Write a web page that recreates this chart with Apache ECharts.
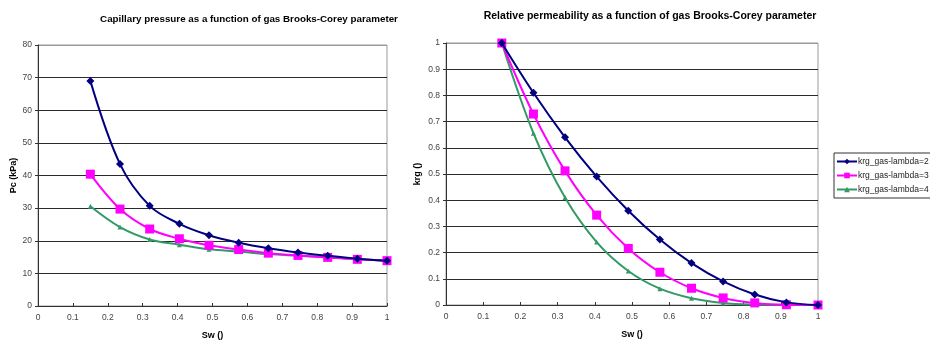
<!DOCTYPE html>
<html>
<head>
<meta charset="utf-8">
<script src="https://cdn.jsdelivr.net/npm/echarts@6/dist/echarts.min.js"></script>
<style>
  html, body { margin: 0; padding: 0; background: #fff; }
  #chart { width: 930px; height: 341px; }
</style>
</head>
<body>
<div id="chart"></div>
<script>
// Water saturation sample points (shared by both panels)
const sw = [0.15, 0.235, 0.32, 0.405, 0.49, 0.575, 0.66, 0.745, 0.83, 0.915, 1.0];

// Capillary pressure (kPa) for gas Brooks-Corey lambda = 2, 3, 4
const pcLambda2 = [69.0, 43.5, 30.7, 25.2, 21.7, 19.4, 17.7, 16.4, 15.4, 14.5, 13.9];
const pcLambda3 = [40.4, 29.7, 23.6, 20.6, 18.6, 17.3, 16.2, 15.5, 14.9, 14.3, 13.9];
const pcLambda4 = [30.6, 24.2, 20.4, 18.8, 17.4, 16.7, 15.9, 15.4, 14.9, 14.4, 13.9];

// Gas relative permeability for lambda = 2, 3, 4
const krgLambda2 = [1.0, 0.81, 0.64, 0.49, 0.36, 0.25, 0.16, 0.09, 0.04, 0.01, 0.0];
const krgLambda3 = [1.0, 0.729, 0.512, 0.343, 0.216, 0.125, 0.064, 0.027, 0.008, 0.001, 0.0];
const krgLambda4 = [1.0, 0.656, 0.41, 0.24, 0.13, 0.0625, 0.026, 0.008, 0.0016, 0.0001, 0.0];

const seriesNames = ['krg_gas-lambda=2', 'krg_gas-lambda=3', 'krg_gas-lambda=4'];
const xTicks = { min: 0, max: 1, interval: 0.1 };
const pcTicks = { min: 0, max: 80, interval: 10 };
const krgTicks = { min: 0, max: 1, interval: 0.1 };

const font = 'Liberation Sans, Arial, sans-serif';
const colors = ['#000080', '#FF00FF', '#339966'];
const symbols = ['diamond', 'rect', 'triangle'];
const symbolSizes = [8, 9, 5];

const pair = (xs, ys) => xs.map((x, i) => [x, ys[i]]);

function gridLineColors(n) {
  const c = [];
  for (let i = 0; i < n; i++) c.push(i === n - 1 ? '#9a9a9a' : '#2a2a2a');
  return c;
}

function xAxis(gridIndex) {
  return {
    type: 'value', gridIndex,
    min: xTicks.min, max: xTicks.max, interval: xTicks.interval,
    name: 'Sw ()', nameLocation: 'middle', nameGap: 25,
    nameTextStyle: { fontFamily: font, fontSize: 9, fontWeight: 'bold', color: '#000' },
    axisLine: { lineStyle: { color: '#333', width: 1 } },
    axisTick: { inside: true, length: 3, lineStyle: { color: '#333' } },
    axisLabel: { fontFamily: font, fontSize: 8.5, color: '#444', margin: 7,
                 formatter: v => (Math.round(v * 10) / 10).toString() },
    splitLine: { show: false }
  };
}

function yAxis(gridIndex, ticks, name, nameGap, count) {
  return {
    type: 'value', gridIndex,
    min: ticks.min, max: ticks.max, interval: ticks.interval,
    name, nameLocation: 'middle', nameGap, nameRotate: 90,
    nameTextStyle: { fontFamily: font, fontSize: 9, fontWeight: 'bold', color: '#000' },
    axisLine: { show: true, lineStyle: { color: '#333', width: 1 } },
    axisTick: { show: true, length: 3, lineStyle: { color: '#333' } },
    axisLabel: { fontFamily: font, fontSize: 8.5, color: '#444', margin: 6,
                 formatter: v => (Math.round(v * 10) / 10).toString() },
    splitLine: { show: true, lineStyle: { color: gridLineColors(count), width: 1 } }
  };
}

function lineSeries(name, idx, xs, ys, xAxisIndex, yAxisIndex, showInLegend) {
  return {
    type: 'line', name: showInLegend ? name : name + ' ',
    xAxisIndex, yAxisIndex,
    data: pair(xs, ys),
    smooth: 0.35,
    symbol: symbols[idx], symbolSize: symbolSizes[idx], showSymbol: true,
    lineStyle: { color: colors[idx], width: 2 },
    itemStyle: { color: colors[idx] },
    z: 10 - idx,
    animation: false
  };
}

const chart = echarts.init(document.getElementById('chart'), null, { renderer: 'canvas' });

const pcSets = [pcLambda2, pcLambda3, pcLambda4];
const krgSets = [krgLambda2, krgLambda3, krgLambda4];

chart.setOption({
  animation: false,
  backgroundColor: '#fff',
  title: [
    { text: 'Capillary pressure as a function of gas Brooks-Corey parameter',
      left: 244, top: 9, textAlign: 'center',
      textStyle: { fontFamily: font, fontSize: 9.8, fontWeight: 'bold', color: '#000' } },
    { text: 'Relative permeability as a function of gas Brooks-Corey parameter',
      left: 645, top: 6, textAlign: 'center',
      textStyle: { fontFamily: font, fontSize: 10.5, fontWeight: 'bold', color: '#000' } }
  ],
  legend: {
    data: seriesNames,
    orient: 'vertical',
    left: 834, top: 153,
    itemWidth: 20, itemHeight: 7, itemGap: 5,
    padding: [4, 4, 4, 2],
    borderColor: '#333', borderWidth: 1,
    textStyle: { fontFamily: font, fontSize: 8.5, color: '#222', padding: [0, 0, 0, -4] }
  },
  grid: [
    { left: 38, right: 543, top: 45, bottom: 35, outerBoundsMode: 'none', containLabel: false,
      show: true, borderColor: '#9a9a9a', borderWidth: 1, backgroundColor: 'transparent' },
    { left: 446, right: 112, top: 43, bottom: 36, outerBoundsMode: 'none', containLabel: false,
      show: true, borderColor: '#9a9a9a', borderWidth: 1, backgroundColor: 'transparent' }
  ],
  xAxis: [xAxis(0), xAxis(1)],
  yAxis: [
    yAxis(0, pcTicks, 'Pc (kPa)', 20, 9),
    yAxis(1, krgTicks, 'krg ()', 24, 11)
  ],
  series: [
    ...pcSets.map((ys, i) => lineSeries(seriesNames[i], i, sw, ys, 0, 0, false)),
    ...krgSets.map((ys, i) => lineSeries(seriesNames[i], i, sw, ys, 1, 1, true))
  ]
});
</script>
</body>
</html>
